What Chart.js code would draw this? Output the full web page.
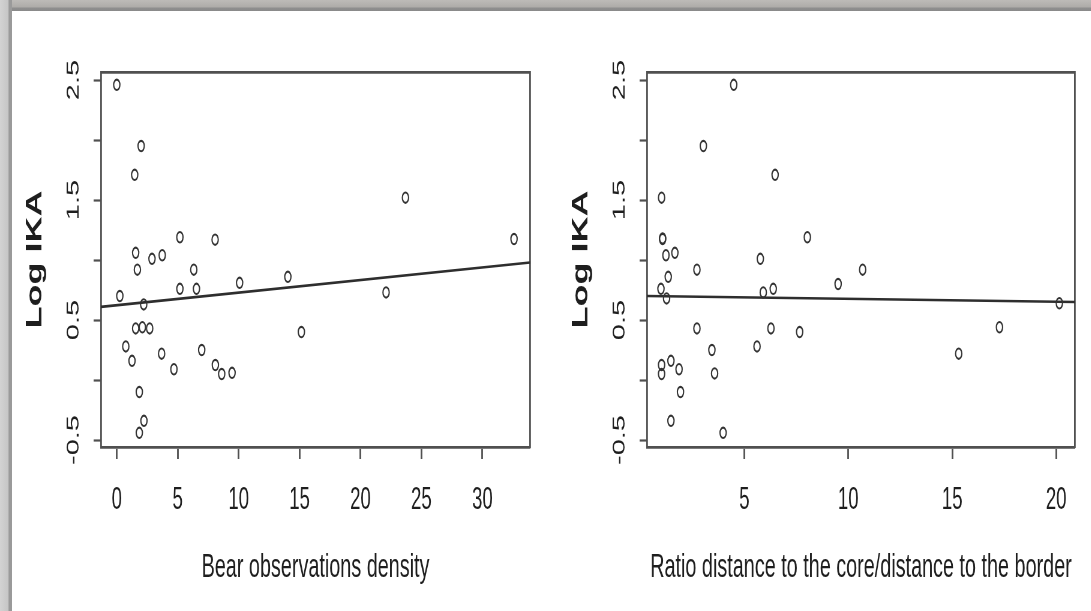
<!DOCTYPE html>
<html>
<head>
<meta charset="utf-8">
<script src="https://cdn.jsdelivr.net/npm/chart.js@4.4.1/dist/chart.umd.min.js"></script>
<style>
  html, body { margin: 0; padding: 0; background: #fff; }
  body { width: 1091px; height: 611px; position: relative; overflow: hidden; }
  .band-top { position: absolute; left: 0; top: 0; width: 1091px; height: 11px;
    background: linear-gradient(to bottom, #bdbbb8 0px, #aeaca9 7px, #8e8e8e 8px, #8a8a8a 11px); }
  .band-left { position: absolute; left: 0; top: 0; width: 12px; height: 611px;
    background: linear-gradient(to right, #d3d3d3 0px, #c6c6c6 8px, #9a9a9a 9px, #9a9a9a 12px); }
  canvas.panel { position: absolute; top: 0; transform: scaleX(0.6); transform-origin: 0 0; }
</style>
</head>
<body>
<div class="band-top"></div>
<div class="band-left"></div>
<canvas id="densityChart" class="panel" width="871" height="611" style="left:12px"></canvas>
<canvas id="ratioChart" class="panel" width="871" height="611" style="left:558px"></canvas>
<script>
// shared y axis (Log IKA)
const yTicks = [-0.5, 0, 0.5, 1, 1.5, 2, 2.5];
const yLabelled = [-0.5, 0.5, 1.5, 2.5];
const yRange = [-0.558, 2.567];

// left panel: bear observations density
const densityX = [0.0, 2.0, 1.47, 1.55, 1.69, 2.89, 3.73, 5.18, 8.07, 6.32, 5.18, 6.54, 10.08, 14.04,
  0.25, 2.21, 1.55, 2.10, 2.70, 15.15, 0.74, 1.25, 3.68, 6.97, 4.69, 8.09, 8.61, 9.46, 1.85, 2.23,
  1.85, 23.69, 32.6, 22.1];
const densityY = [2.46, 1.95, 1.71, 1.06, 0.92, 1.01, 1.04, 1.19, 1.17, 0.92, 0.76, 0.76, 0.81, 0.86,
  0.70, 0.63, 0.43, 0.44, 0.43, 0.40, 0.28, 0.16, 0.22, 0.25, 0.09, 0.125, 0.05, 0.06, -0.10, -0.34,
  -0.44, 1.52, 1.175, 0.73];
const densityFitX = [-1.31, 33.93];
const densityFitY = [0.61, 0.98];
const densityTicks = [0, 5, 10, 15, 20, 25, 30];
const densityRange = [-1.31, 33.93];

// right panel: ratio distance to core / distance to border
const ratioX = [4.49, 3.03, 6.48, 1.02, 1.07, 1.07, 8.03, 1.23, 1.66, 5.77, 2.72, 1.34, 0.99, 1.26,
  5.91, 6.39, 9.51, 10.69, 2.72, 6.28, 7.66, 3.44, 5.61, 1.47, 1.02, 1.02, 1.86, 3.57, 1.93, 1.47,
  3.98, 15.31, 17.27, 20.15];
const ratioY = [2.46, 1.95, 1.71, 1.52, 1.175, 1.18, 1.19, 1.04, 1.06, 1.01, 0.92, 0.86, 0.76, 0.68,
  0.73, 0.76, 0.80, 0.92, 0.43, 0.43, 0.40, 0.25, 0.28, 0.16, 0.125, 0.05, 0.09, 0.055, -0.10, -0.34,
  -0.44, 0.22, 0.44, 0.64];
const ratioFitX = [0.31, 20.91];
const ratioFitY = [0.70, 0.65];
const ratioTicks = [5, 10, 15, 20];
const ratioRange = [0.31, 20.91];

const ink = "#1e1e1e";
const boxColor = "#505050";
const font = "'Liberation Sans', Arial, Helvetica, sans-serif";

function toTicks(values) {
  return values.map((v) => ({ value: v }));
}

function borderOnly(position, range) {
  return {
    type: "linear",
    position: position,
    min: range[0],
    max: range[1],
    ticks: { display: false },
    grid: { display: true, drawOnChartArea: false, drawTicks: false },
    border: { display: true, color: boxColor, width: 2.8 },
    afterFit: (s) => {
      if (position === "top") s.height = 0;
      else s.width = 0;
    },
  };
}

function makePanel(id, xs, ys, fitX, fitY, xRange, xTicks, xTitle) {
  const ctx = document.getElementById(id);
  return new Chart(ctx, {
    data: {
      datasets: [
        {
          type: "scatter",
          data: xs.map((x, i) => ({ x: x, y: ys[i] })),
          pointStyle: "circle",
          pointRadius: 5.2,
          pointBorderWidth: 2.1,
          pointBorderColor: "#333",
          pointBackgroundColor: "rgba(0,0,0,0)",
        },
        {
          type: "line",
          data: fitX.map((x, i) => ({ x: x, y: fitY[i] })),
          borderColor: "#2e2e2e",
          borderWidth: 2.6,
          pointRadius: 0,
          fill: false,
        },
      ],
    },
    options: {
      responsive: false,
      animation: false,
      events: [],
      layout: { padding: { left: 0, right: 4, top: 72, bottom: 0 } },
      plugins: {
        legend: { display: false },
        tooltip: { enabled: false },
      },
      scales: {
        x: {
          type: "linear",
          position: "bottom",
          min: xRange[0],
          max: xRange[1],
          afterBuildTicks: (s) => {
            s.ticks = toTicks(xTicks);
          },
          afterFit: (s) => {
            s.height = 164;
          },
          grid: {
            drawOnChartArea: false,
            drawTicks: true,
            tickLength: 12,
            tickColor: boxColor,
            tickWidth: 2.8,
          },
          border: { display: true, color: boxColor, width: 2.8 },
          ticks: {
            autoSkip: false,
            maxRotation: 0,
            padding: 23,
            color: ink,
            font: { family: font, size: 31 },
          },
          title: {
            display: true,
            text: xTitle,
            color: ink,
            font: { family: font, size: 33 },
            padding: { top: 0, bottom: 23 },
          },
        },
        y: {
          type: "linear",
          position: "left",
          min: yRange[0],
          max: yRange[1],
          afterBuildTicks: (s) => {
            s.ticks = toTicks(yTicks);
          },
          afterFit: (s) => {
            s.width = 148;
          },
          grid: {
            drawOnChartArea: false,
            drawTicks: true,
            tickLength: 12,
            tickColor: boxColor,
            tickWidth: 2.2,
          },
          border: { display: true, color: boxColor, width: 2.8 },
          ticks: {
            autoSkip: false,
            minRotation: 90,
            maxRotation: 90,
            crossAlign: "center",
            padding: 8,
            color: ink,
            font: { family: font, size: 29 },
            callback: (v) => (yLabelled.includes(v) ? String(v) : ""),
          },
          title: {
            display: true,
            text: "Log IKA",
            color: ink,
            font: { family: font, size: 36, weight: "bold" },
            padding: { top: 17, bottom: 0 },
          },
        },
        x2: borderOnly("top", xRange),
        y2: borderOnly("right", yRange),
      },
    },
  });
}

window.densityChart = makePanel("densityChart", densityX, densityY, densityFitX, densityFitY,
  densityRange, densityTicks, "Bear observations density");
window.ratioChart = makePanel("ratioChart", ratioX, ratioY, ratioFitX, ratioFitY,
  ratioRange, ratioTicks, "Ratio distance to the core/distance to the border");
</script>
</body>
</html>
